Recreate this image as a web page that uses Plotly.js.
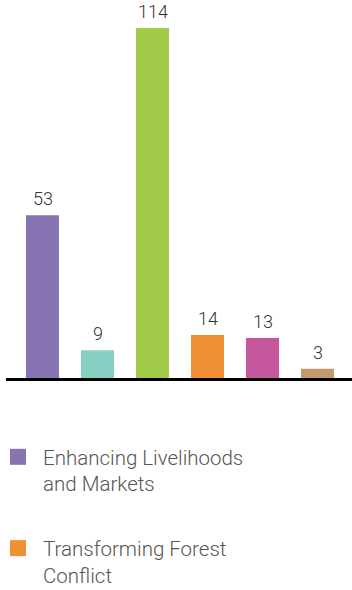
<!DOCTYPE html>
<html>
<head>
<meta charset="utf-8">
<script src="https://cdn.plot.ly/plotly-3.0.1.min.js"></script>
<style>
  html, body { margin: 0; padding: 0; background: #fff; }
  #chart { width: 352px; height: 590px; }
</style>
</head>
<body>
<div id="chart"></div>
<script>
const categories = [
  "Enhancing Livelihoods and Markets",
  "Category 2",
  "Category 3",
  "Transforming Forest Conflict",
  "Category 5",
  "Category 6"
];
const values = [53, 9, 114, 14, 13, 3];
const colors = ["#8873b3", "#88d0c4", "#a3cb4a", "#f09035", "#c7579d", "#c4996b"];
const legendIndex = [0, 3];
const legendLabels = ["Enhancing Livelihoods<br>and Markets", "Transforming Forest<br>Conflict"];

const traces = [{
  type: "bar",
  x: categories,
  y: values,
  marker: { color: colors },
  showlegend: false,
  hoverinfo: "skip"
}];

legendIndex.forEach((idx, k) => {
  traces.push({
    type: "scatter",
    mode: "markers",
    x: [null],
    y: [null],
    name: legendLabels[k],
    legendgroup: "g" + k,
    marker: { symbol: "square", size: 16, color: colors[idx] },
    showlegend: true
  });
});

const annotations = categories.map((c, i) => ({
  x: c,
  y: values[i],
  xref: "x",
  yref: "y",
  text: String(values[i]),
  showarrow: false,
  yanchor: "bottom",
  yshift: 4,
  font: { family: "Roboto", size: 18, color: "#333333", weight: 300 }
}));

const layout = {
  width: 352,
  height: 590,
  margin: { l: 6, r: 0, t: 0, b: 212, autoexpand: false },
  paper_bgcolor: "#ffffff",
  plot_bgcolor: "#ffffff",
  bargap: 0.4,
  annotations: annotations,
  xaxis: {
    type: "category",
    range: [-0.6636, 5.627],
    showticklabels: false,
    ticks: "",
    showgrid: false,
    zeroline: false,
    showline: true,
    linecolor: "#000000",
    linewidth: 3,
    fixedrange: true
  },
  yaxis: {
    range: [0, 123.1],
    visible: false,
    showgrid: false,
    zeroline: false,
    fixedrange: true
  },
  showlegend: true,
  legend: {
    orientation: "v",
    xref: "paper",
    yref: "container",
    x: -13 / 346,
    y: 1 - 437 / 590,
    xanchor: "left",
    yanchor: "top",
    valign: "top",
    itemwidth: 40,
    tracegroupgap: 35,
    font: { family: "Roboto", size: 20.5, color: "#555555", weight: 300 },
    bgcolor: "rgba(0,0,0,0)",
    borderwidth: 0
  }
};

Plotly.newPlot("chart", traces, layout, { displayModeBar: false, staticPlot: true });
</script>
</body>
</html>
